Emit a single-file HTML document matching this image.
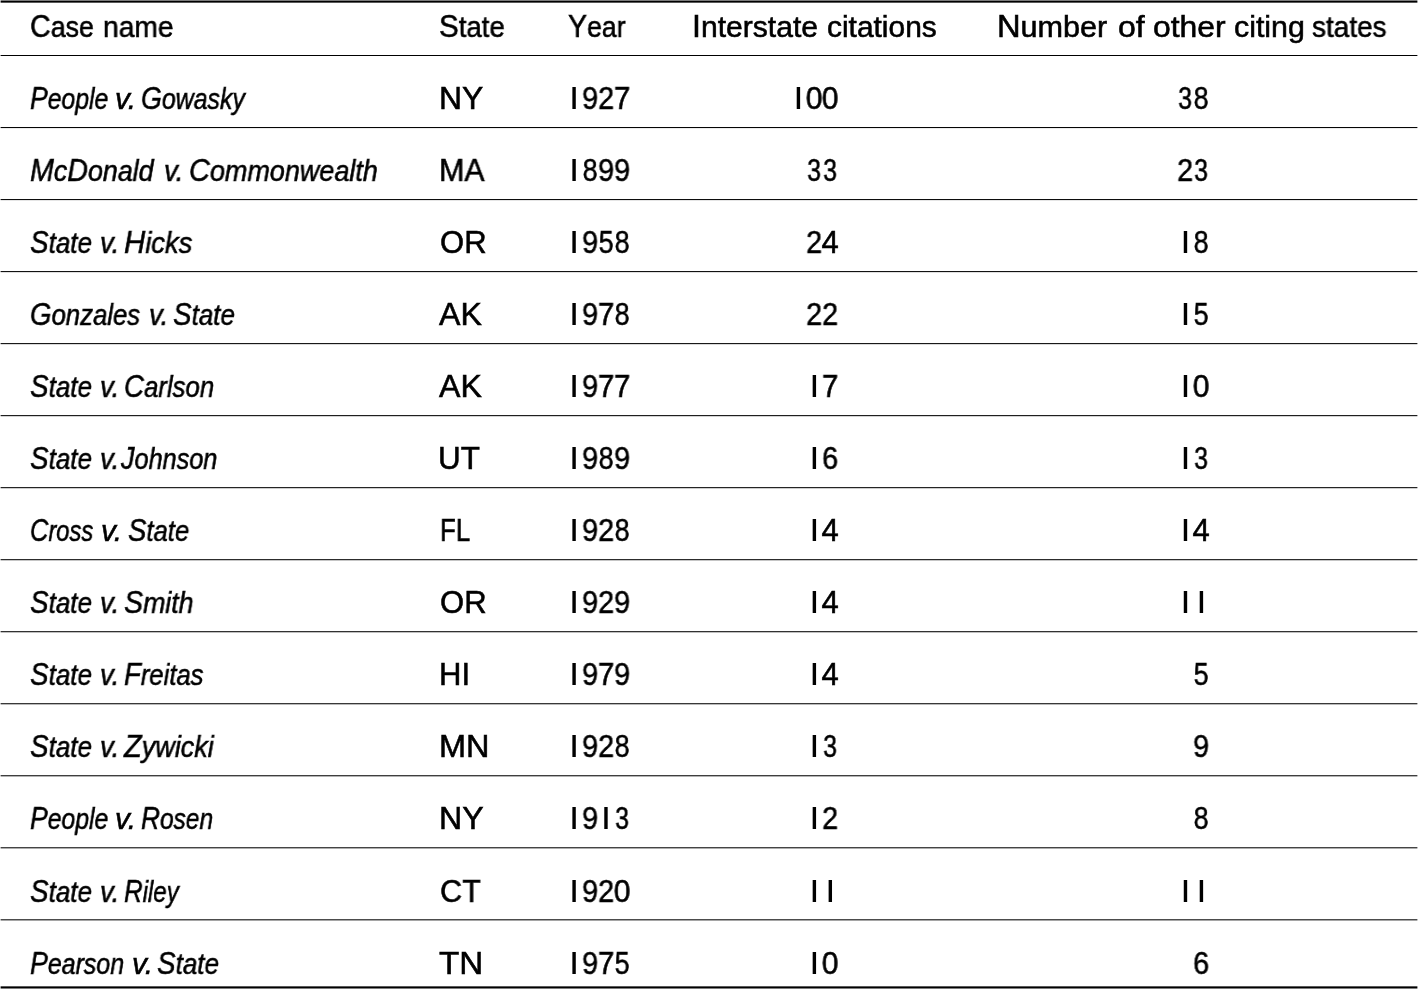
<!DOCTYPE html>
<html><head><meta charset="utf-8"><style>
html,body{margin:0;padding:0;background:#fff;width:1418px;height:989px;overflow:hidden;position:relative}
.t{position:absolute;white-space:nowrap;-webkit-text-stroke:0.55px #000;font-family:"Liberation Sans",sans-serif;font-size:29px;line-height:60px;height:60px;color:#000;transform-origin:0 0}.t .u{font-size:31px}.i{font-style:italic}.t,.d{will-change:transform}
.d{position:absolute;width:40px;-webkit-text-stroke:0.55px #000;text-align:center;font-family:"Liberation Sans",sans-serif;font-size:31px;line-height:60px;height:60px;color:#000}
.b{position:absolute;width:3px;height:22px;background:#000}
.r{position:absolute;left:1px;width:1416px;background:#000}
</style></head><body>

<div class="t" style="left:30.48px;top:-3px;transform:scaleX(0.9239)"><span class="u">C</span>ase</div>
<div class="t" style="left:102.56px;top:-3px;transform:scaleX(0.9714)">name</div>
<div class="t" style="left:438.65px;top:-3px;transform:scaleX(0.9522)"><span class="u">S</span>tate</div>
<div class="t" style="left:568.28px;top:-3px;transform:scaleX(0.9194)"><span class="u">Y</span>ear</div>
<div class="t" style="left:692.13px;top:-3px;transform:scaleX(1.0373)"><span class="u">I</span>nterstate</div>
<div class="t" style="left:826.57px;top:-3px;transform:scaleX(1.0314)">citations</div>
<div class="t" style="left:997.49px;top:-3px;transform:scaleX(1.0544)"><span class="u">N</span>umber</div>
<div class="t" style="left:1117.80px;top:-3px;transform:scaleX(1.1042)">of</div>
<div class="t" style="left:1152.80px;top:-3px;transform:scaleX(1.0985)">other</div>
<div class="t" style="left:1234.25px;top:-3px;transform:scaleX(1.0462)">citing</div>
<div class="t" style="left:1312.34px;top:-3px;transform:scaleX(0.9645)">states</div>
<div class="t i" style="left:29.75px;top:69px;transform:scaleX(0.8544)"><span class="u">P</span>eople</div>
<div class="t i" style="left:115.37px;top:69px;transform:scaleX(1.0312)">v.</div>
<div class="t i" style="left:140.94px;top:69px;transform:scaleX(0.8603)"><span class="u">G</span>owasky</div>
<div class="t" style="left:438.84px;top:69px;transform:scaleX(1.0293)"><span class="u">N</span><span class="u">Y</span></div>
<div class="t i" style="left:29.68px;top:141px;transform:scaleX(0.9246)"><span class="u">M</span>c<span class="u">D</span>onald</div>
<div class="t i" style="left:163.64px;top:141px;transform:scaleX(0.9563)">v.</div>
<div class="t i" style="left:188.57px;top:141px;transform:scaleX(0.9308)"><span class="u">C</span>ommonwealth</div>
<div class="t" style="left:438.94px;top:141px;transform:scaleX(0.9822)"><span class="u">M</span><span class="u">A</span></div>
<div class="t i" style="left:30.40px;top:213px;transform:scaleX(0.8985)"><span class="u">S</span>tate</div>
<div class="t i" style="left:100.25px;top:213px;transform:scaleX(0.9500)">v.</div>
<div class="t i" style="left:123.85px;top:213px;transform:scaleX(0.9465)"><span class="u">H</span>icks</div>
<div class="t" style="left:439.51px;top:213px;transform:scaleX(0.9932)"><span class="u">O</span><span class="u">R</span></div>
<div class="t i" style="left:29.71px;top:285px;transform:scaleX(0.8878)"><span class="u">G</span>onzales</div>
<div class="t i" style="left:148.95px;top:285px;transform:scaleX(0.9500)">v.</div>
<div class="t i" style="left:173.40px;top:285px;transform:scaleX(0.8970)"><span class="u">S</span>tate</div>
<div class="t" style="left:438.90px;top:285px;transform:scaleX(1.0366)"><span class="u">A</span><span class="u">K</span></div>
<div class="t i" style="left:30.40px;top:357px;transform:scaleX(0.8985)"><span class="u">S</span>tate</div>
<div class="t i" style="left:100.25px;top:357px;transform:scaleX(0.9500)">v.</div>
<div class="t i" style="left:124.41px;top:357px;transform:scaleX(0.8899)"><span class="u">C</span>arlson</div>
<div class="t" style="left:438.90px;top:357px;transform:scaleX(1.0366)"><span class="u">A</span><span class="u">K</span></div>
<div class="t i" style="left:30.40px;top:429px;transform:scaleX(0.8985)"><span class="u">S</span>tate</div>
<div class="t i" style="left:100.25px;top:429px;transform:scaleX(0.9500)">v.</div>
<div class="t i" style="left:121.00px;top:429px;transform:scaleX(0.8700)"><span class="u">J</span>ohnson</div>
<div class="t" style="left:438.47px;top:429px;transform:scaleX(1.0128)"><span class="u">U</span><span class="u">T</span></div>
<div class="t i" style="left:30.48px;top:501px;transform:scaleX(0.8184)"><span class="u">C</span>ross</div>
<div class="t i" style="left:101.37px;top:501px;transform:scaleX(1.0312)">v.</div>
<div class="t i" style="left:127.71px;top:501px;transform:scaleX(0.8866)"><span class="u">S</span>tate</div>
<div class="t" style="left:439.63px;top:501px;transform:scaleX(0.8353)"><span class="u">F</span><span class="u">L</span></div>
<div class="t i" style="left:30.40px;top:573px;transform:scaleX(0.8985)"><span class="u">S</span>tate</div>
<div class="t i" style="left:100.25px;top:573px;transform:scaleX(0.9500)">v.</div>
<div class="t i" style="left:124.38px;top:573px;transform:scaleX(0.9219)"><span class="u">S</span>mith</div>
<div class="t" style="left:439.51px;top:573px;transform:scaleX(0.9932)"><span class="u">O</span><span class="u">R</span></div>
<div class="t i" style="left:30.40px;top:645px;transform:scaleX(0.8985)"><span class="u">S</span>tate</div>
<div class="t i" style="left:100.25px;top:645px;transform:scaleX(0.9500)">v.</div>
<div class="t i" style="left:123.91px;top:645px;transform:scaleX(0.8852)"><span class="u">F</span>reitas</div>
<div class="t" style="left:439.20px;top:645px;transform:scaleX(1.0000)"><span class="u">H</span><span class="u">I</span></div>
<div class="t i" style="left:30.40px;top:717px;transform:scaleX(0.8985)"><span class="u">S</span>tate</div>
<div class="t i" style="left:100.25px;top:717px;transform:scaleX(0.9500)">v.</div>
<div class="t i" style="left:124.43px;top:717px;transform:scaleX(0.9327)"><span class="u">Z</span>ywicki</div>
<div class="t" style="left:438.80px;top:717px;transform:scaleX(1.0477)"><span class="u">M</span><span class="u">N</span></div>
<div class="t i" style="left:29.75px;top:789px;transform:scaleX(0.8544)"><span class="u">P</span>eople</div>
<div class="t i" style="left:115.37px;top:789px;transform:scaleX(1.0312)">v.</div>
<div class="t i" style="left:141.46px;top:789px;transform:scaleX(0.8446)"><span class="u">R</span>osen</div>
<div class="t" style="left:438.63px;top:789px;transform:scaleX(1.0366)"><span class="u">N</span><span class="u">Y</span></div>
<div class="t i" style="left:30.40px;top:862px;transform:scaleX(0.8985)"><span class="u">S</span>tate</div>
<div class="t i" style="left:100.25px;top:862px;transform:scaleX(0.9500)">v.</div>
<div class="t i" style="left:123.97px;top:862px;transform:scaleX(0.8299)"><span class="u">R</span>iley</div>
<div class="t" style="left:439.51px;top:862px;transform:scaleX(0.9875)"><span class="u">C</span><span class="u">T</span></div>
<div class="t i" style="left:29.74px;top:934px;transform:scaleX(0.8607)"><span class="u">P</span>earson</div>
<div class="t i" style="left:131.87px;top:934px;transform:scaleX(1.0312)">v.</div>
<div class="t i" style="left:157.40px;top:934px;transform:scaleX(0.8985)"><span class="u">S</span>tate</div>
<div class="t" style="left:439.20px;top:934px;transform:scaleX(1.0718)"><span class="u">T</span><span class="u">N</span></div>
<div class="d" style="left:570.02px;top:69px;transform:scaleX(0.93)">9</div>
<div class="d" style="left:585.98px;top:69px;transform:scaleX(0.93)">2</div>
<div class="d" style="left:601.93px;top:69px;transform:scaleX(0.95)">7</div>
<div class="d" style="left:794.37px;top:69px;transform:scaleX(0.97)">0</div>
<div class="d" style="left:810.32px;top:69px;transform:scaleX(0.97)">0</div>
<div class="d" style="left:1165.47px;top:69px;transform:scaleX(0.8)">3</div>
<div class="d" style="left:1181.42px;top:69px;transform:scaleX(0.87)">8</div>
<div class="d" style="left:570.02px;top:141px;transform:scaleX(0.87)">8</div>
<div class="d" style="left:585.98px;top:141px;transform:scaleX(0.93)">9</div>
<div class="d" style="left:601.93px;top:141px;transform:scaleX(0.93)">9</div>
<div class="d" style="left:794.38px;top:141px;transform:scaleX(0.8)">3</div>
<div class="d" style="left:810.32px;top:141px;transform:scaleX(0.8)">3</div>
<div class="d" style="left:1165.47px;top:141px;transform:scaleX(0.93)">2</div>
<div class="d" style="left:1181.42px;top:141px;transform:scaleX(0.8)">3</div>
<div class="d" style="left:570.02px;top:213px;transform:scaleX(0.93)">9</div>
<div class="d" style="left:585.98px;top:213px;transform:scaleX(0.87)">5</div>
<div class="d" style="left:601.93px;top:213px;transform:scaleX(0.87)">8</div>
<div class="d" style="left:794.38px;top:213px;transform:scaleX(0.93)">2</div>
<div class="d" style="left:810.32px;top:213px;transform:scaleX(1.0)">4</div>
<div class="d" style="left:1181.42px;top:213px;transform:scaleX(0.87)">8</div>
<div class="d" style="left:570.02px;top:285px;transform:scaleX(0.93)">9</div>
<div class="d" style="left:585.98px;top:285px;transform:scaleX(0.95)">7</div>
<div class="d" style="left:601.93px;top:285px;transform:scaleX(0.87)">8</div>
<div class="d" style="left:794.38px;top:285px;transform:scaleX(0.93)">2</div>
<div class="d" style="left:810.32px;top:285px;transform:scaleX(0.93)">2</div>
<div class="d" style="left:1181.42px;top:285px;transform:scaleX(0.87)">5</div>
<div class="d" style="left:570.02px;top:357px;transform:scaleX(0.93)">9</div>
<div class="d" style="left:585.98px;top:357px;transform:scaleX(0.95)">7</div>
<div class="d" style="left:601.93px;top:357px;transform:scaleX(0.95)">7</div>
<div class="d" style="left:810.32px;top:357px;transform:scaleX(0.95)">7</div>
<div class="d" style="left:1181.42px;top:357px;transform:scaleX(0.97)">0</div>
<div class="d" style="left:570.02px;top:429px;transform:scaleX(0.93)">9</div>
<div class="d" style="left:585.98px;top:429px;transform:scaleX(0.87)">8</div>
<div class="d" style="left:601.93px;top:429px;transform:scaleX(0.93)">9</div>
<div class="d" style="left:810.32px;top:429px;transform:scaleX(0.93)">6</div>
<div class="d" style="left:1181.42px;top:429px;transform:scaleX(0.8)">3</div>
<div class="d" style="left:570.02px;top:501px;transform:scaleX(0.93)">9</div>
<div class="d" style="left:585.98px;top:501px;transform:scaleX(0.93)">2</div>
<div class="d" style="left:601.93px;top:501px;transform:scaleX(0.87)">8</div>
<div class="d" style="left:810.32px;top:501px;transform:scaleX(1.0)">4</div>
<div class="d" style="left:1181.42px;top:501px;transform:scaleX(1.0)">4</div>
<div class="d" style="left:570.02px;top:573px;transform:scaleX(0.93)">9</div>
<div class="d" style="left:585.98px;top:573px;transform:scaleX(0.93)">2</div>
<div class="d" style="left:601.93px;top:573px;transform:scaleX(0.93)">9</div>
<div class="d" style="left:810.32px;top:573px;transform:scaleX(1.0)">4</div>
<div class="d" style="left:570.02px;top:645px;transform:scaleX(0.93)">9</div>
<div class="d" style="left:585.98px;top:645px;transform:scaleX(0.95)">7</div>
<div class="d" style="left:601.93px;top:645px;transform:scaleX(0.93)">9</div>
<div class="d" style="left:810.32px;top:645px;transform:scaleX(1.0)">4</div>
<div class="d" style="left:1181.42px;top:645px;transform:scaleX(0.87)">5</div>
<div class="d" style="left:570.02px;top:717px;transform:scaleX(0.93)">9</div>
<div class="d" style="left:585.98px;top:717px;transform:scaleX(0.93)">2</div>
<div class="d" style="left:601.93px;top:717px;transform:scaleX(0.87)">8</div>
<div class="d" style="left:810.32px;top:717px;transform:scaleX(0.8)">3</div>
<div class="d" style="left:1181.42px;top:717px;transform:scaleX(0.93)">9</div>
<div class="d" style="left:570.02px;top:789px;transform:scaleX(0.93)">9</div>
<div class="d" style="left:601.93px;top:789px;transform:scaleX(0.8)">3</div>
<div class="d" style="left:810.32px;top:789px;transform:scaleX(0.93)">2</div>
<div class="d" style="left:1181.42px;top:789px;transform:scaleX(0.87)">8</div>
<div class="d" style="left:570.02px;top:862px;transform:scaleX(0.93)">9</div>
<div class="d" style="left:585.98px;top:862px;transform:scaleX(0.93)">2</div>
<div class="d" style="left:601.93px;top:862px;transform:scaleX(0.97)">0</div>
<div class="d" style="left:570.02px;top:934px;transform:scaleX(0.93)">9</div>
<div class="d" style="left:585.98px;top:934px;transform:scaleX(0.95)">7</div>
<div class="d" style="left:601.93px;top:934px;transform:scaleX(0.87)">5</div>
<div class="d" style="left:810.32px;top:934px;transform:scaleX(0.97)">0</div>
<div class="d" style="left:1181.42px;top:934px;transform:scaleX(0.93)">6</div>
<svg style="position:absolute;left:0;top:0" width="1418" height="989" viewBox="0 0 1418 989"><rect x="0.6" y="0.49" width="1416.80" height="2.16"/><rect x="0.6" y="55" width="1416.80" height="1"/><rect x="0.6" y="127.025" width="1416.80" height="1.05"/><rect x="0.6" y="199.050" width="1416.80" height="1.05"/><rect x="0.6" y="271.075" width="1416.80" height="1.05"/><rect x="0.6" y="343.100" width="1416.80" height="1.05"/><rect x="0.6" y="415.125" width="1416.80" height="1.05"/><rect x="0.6" y="487.150" width="1416.80" height="1.05"/><rect x="0.6" y="559.175" width="1416.80" height="1.05"/><rect x="0.6" y="631.200" width="1416.80" height="1.05"/><rect x="0.6" y="703.225" width="1416.80" height="1.05"/><rect x="0.6" y="775.250" width="1416.80" height="1.05"/><rect x="0.6" y="847.275" width="1416.80" height="1.05"/><rect x="0.6" y="919.300" width="1416.80" height="1.05"/><rect x="0.6" y="986.35" width="1416.80" height="2.16"/><rect x="572.38" y="87" width="3.4" height="22"/><rect x="796.72" y="87" width="3.4" height="22"/><rect x="572.38" y="159" width="3.4" height="22"/><rect x="572.38" y="231" width="3.4" height="22"/><rect x="1183.77" y="231" width="3.4" height="22"/><rect x="572.38" y="303" width="3.4" height="22"/><rect x="1183.77" y="303" width="3.4" height="22"/><rect x="572.38" y="375" width="3.4" height="22"/><rect x="812.67" y="375" width="3.4" height="22"/><rect x="1183.77" y="375" width="3.4" height="22"/><rect x="572.38" y="447" width="3.4" height="22"/><rect x="812.67" y="447" width="3.4" height="22"/><rect x="1183.77" y="447" width="3.4" height="22"/><rect x="572.38" y="519" width="3.4" height="22"/><rect x="812.67" y="519" width="3.4" height="22"/><rect x="1183.77" y="519" width="3.4" height="22"/><rect x="572.38" y="591" width="3.4" height="22"/><rect x="812.67" y="591" width="3.4" height="22"/><rect x="1183.77" y="591" width="3.4" height="22"/><rect x="1199.72" y="591" width="3.4" height="22"/><rect x="572.38" y="663" width="3.4" height="22"/><rect x="812.67" y="663" width="3.4" height="22"/><rect x="572.38" y="735" width="3.4" height="22"/><rect x="812.67" y="735" width="3.4" height="22"/><rect x="572.38" y="807" width="3.4" height="22"/><rect x="604.27" y="807" width="3.4" height="22"/><rect x="812.67" y="807" width="3.4" height="22"/><rect x="572.38" y="880" width="3.4" height="22"/><rect x="812.67" y="880" width="3.4" height="22"/><rect x="828.62" y="880" width="3.4" height="22"/><rect x="1183.77" y="880" width="3.4" height="22"/><rect x="1199.72" y="880" width="3.4" height="22"/><rect x="572.38" y="952" width="3.4" height="22"/><rect x="812.67" y="952" width="3.4" height="22"/></svg>
</body></html>
